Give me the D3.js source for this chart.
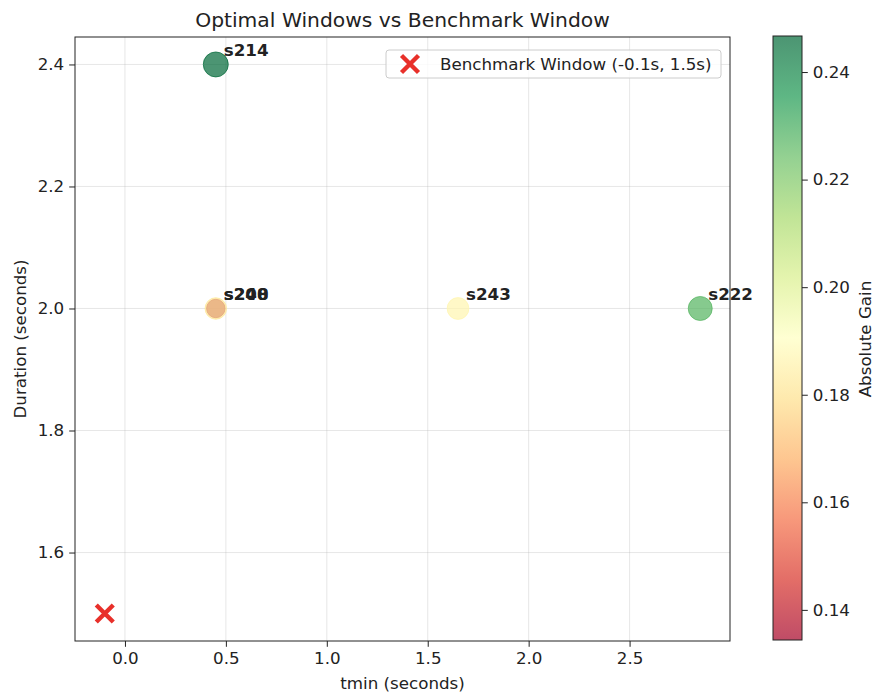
<!DOCTYPE html>
<html><head><meta charset="utf-8">
<script src="https://cdn.jsdelivr.net/npm/d3@7"></script>
<style>body{margin:0;background:#fff;} text{font-family:"DejaVu Sans",sans-serif;fill:#222;}</style>
</head><body><svg id="c" width="874" height="693"></svg>
<script>
const labels = ["s214", "s240", "s208", "s243", "s222"];
const tmin = [0.45, 0.45, 0.45, 1.65, 2.85];
const duration = [2.4, 2.0, 2.0, 2.0, 2.0];
const gain = [0.2467, 0.1344, 0.182, 0.187, 0.227];
const benchmark = {tmin: -0.1, duration: 1.5, label: "Benchmark Window (-0.1s, 1.5s)"};
const xTicks = [0.0, 0.5, 1.0, 1.5, 2.0, 2.5];
const yTicks = [1.6, 1.8, 2.0, 2.2, 2.4];
const cTicks = [0.14, 0.16, 0.18, 0.20, 0.22, 0.24];
const rdylgn = ["#a50026", "#d73027", "#f46d43", "#fdae61", "#fee08b", "#ffffbf",
                "#d9ef8b", "#a6d96a", "#66bd63", "#1a9850", "#006837"];

const svg = d3.select("#c");
const L = 75, R = 730, T = 37, B = 641;
const FS = 16.7;
const x = d3.scaleLinear().domain([-0.2475, 2.9975]).range([L, R]);
const y = d3.scaleLinear().domain([1.455, 2.445]).range([B, T]);
const gmin = d3.min(gain), gmax = d3.max(gain);
const cmap = d3.scaleLinear().domain(d3.range(11).map(i => i / 10)).range(rdylgn).interpolate(d3.interpolateRgb);
const cnorm = d3.scaleLinear().domain([gmin, gmax]).range([0, 1]);
const color = g => cmap(cnorm(g));
const rad = g => 12.5 * Math.sqrt(g / gmax);

// grid
svg.append("g").selectAll("line").data(xTicks).join("line")
  .attr("x1", d => x(d)).attr("x2", d => x(d)).attr("y1", T).attr("y2", B)
  .attr("stroke", "#b0b0b0").attr("stroke-opacity", 0.3).attr("stroke-width", 1);
svg.append("g").selectAll("line").data(yTicks).join("line")
  .attr("y1", d => y(d)).attr("y2", d => y(d)).attr("x1", L).attr("x2", R)
  .attr("stroke", "#b0b0b0").attr("stroke-opacity", 0.3).attr("stroke-width", 1);

// axes
const xa = svg.append("g").attr("transform", `translate(0,${B})`)
  .call(d3.axisBottom(x).tickValues(xTicks).tickFormat(d3.format(".1f")).tickSize(5.8).tickPadding(5));
const ya = svg.append("g").attr("transform", `translate(${L},0)`)
  .call(d3.axisLeft(y).tickValues(yTicks).tickFormat(d3.format(".1f")).tickSize(5.8).tickPadding(5));
[xa, ya].forEach(a => {
  a.select(".domain").remove();
  a.selectAll("text").attr("font-size", FS).attr("fill", "#222").style("font-family", "DejaVu Sans");
  a.selectAll("line").attr("stroke", "#222").attr("stroke-width", 1);
});
svg.append("rect").attr("x", L).attr("y", T).attr("width", R - L).attr("height", B - T)
  .attr("fill", "none").attr("stroke", "#222").attr("stroke-width", 1);

// points
const idx = d3.range(labels.length);
svg.append("g").selectAll("circle").data(idx).join("circle")
  .attr("cx", i => x(tmin[i])).attr("cy", i => y(duration[i])).attr("r", i => rad(gain[i]))
  .attr("fill", i => color(gain[i])).attr("fill-opacity", 0.7)
  .attr("stroke", i => color(gain[i])).attr("stroke-opacity", 0.7).attr("stroke-width", 1);
svg.append("g").selectAll("text").data(idx).join("text")
  .attr("x", i => x(tmin[i]) + 8).attr("y", i => y(duration[i]) - 8)
  .attr("font-size", FS).attr("font-weight", "bold").attr("fill", "#111")
  .text(i => labels[i]);

// benchmark X
function xMark(g, cx, cy, s) {
  g.append("path").attr("d", `M${cx - s},${cy - s}L${cx + s},${cy + s}M${cx - s},${cy + s}L${cx + s},${cy - s}`)
    .attr("stroke", "#e8302a").attr("stroke-width", 4.4).attr("fill", "none");
}
xMark(svg, x(benchmark.tmin), y(benchmark.duration), 8.5);

// legend
svg.append("rect").attr("x", 386).attr("y", 50).attr("width", 335).attr("height", 28).attr("rx", 3)
  .attr("fill", "#fff").attr("fill-opacity", 0.8).attr("stroke", "#ccc").attr("stroke-width", 1);
xMark(svg, 410, 64, 8.5);
svg.append("text").attr("x", 440).attr("y", 70).attr("font-size", FS).text(benchmark.label);

// title & axis labels
svg.append("text").attr("x", (L + R) / 2).attr("y", 27).attr("text-anchor", "middle")
  .attr("font-size", 20.3).text("Optimal Windows vs Benchmark Window");
svg.append("text").attr("x", (L + R) / 2).attr("y", 689).attr("text-anchor", "middle")
  .attr("font-size", FS).text("tmin (seconds)");
svg.append("text").attr("transform", `translate(26,${(T + B) / 2}) rotate(-90)`).attr("text-anchor", "middle")
  .attr("font-size", FS).text("Duration (seconds)");

// colorbar
const cbL = 773, cbW = 29;
const cy = d3.scaleLinear().domain([gmin, gmax]).range([B - 1, T - 1]);
const defs = svg.append("defs");
const grad = defs.append("linearGradient").attr("id", "cg").attr("x1", 0).attr("x2", 0).attr("y1", 1).attr("y2", 0);
rdylgn.forEach((c, i) => grad.append("stop").attr("offset", i / 10).attr("stop-color", c));
svg.append("rect").attr("x", cbL).attr("y", cy(gmax)).attr("width", cbW).attr("height", cy(gmin) - cy(gmax))
  .attr("fill", "url(#cg)").attr("fill-opacity", 0.7);
svg.append("rect").attr("x", cbL).attr("y", cy(gmax)).attr("width", cbW).attr("height", cy(gmin) - cy(gmax))
  .attr("fill", "none").attr("stroke", "#222").attr("stroke-width", 1);
const ca = svg.append("g").attr("transform", `translate(${cbL + cbW},0)`)
  .call(d3.axisRight(cy).tickValues(cTicks).tickFormat(d3.format(".2f")).tickSize(5.8).tickPadding(5));
ca.select(".domain").remove();
ca.selectAll("text").attr("font-size", FS).attr("fill", "#222").style("font-family", "DejaVu Sans");
ca.selectAll("line").attr("stroke", "#222");
svg.append("text").attr("transform", `translate(871,${(T + B) / 2}) rotate(-90)`).attr("text-anchor", "middle")
  .attr("font-size", FS).text("Absolute Gain");
</script></body></html>
